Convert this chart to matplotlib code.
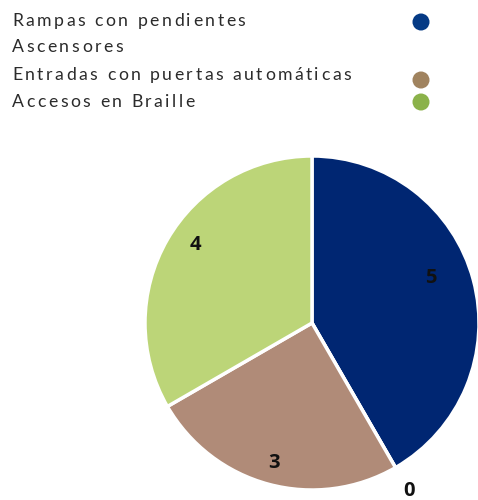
import matplotlib
matplotlib.use('Agg')
import numpy as np
import matplotlib.pyplot as plt

categories = ['Rampas con pendientes', 'Ascensores',
              'Entradas con puertas automáticas', 'Accesos en Braille']
values = [5, 0, 3, 4]
wedge_colors = ['#002672', '#ffffff', '#b08b78', '#bcd578']
dot_colors = ['#053a85', '#ffffff', '#a0835f', '#8bb24a']
# radial position of each value label (fraction of radius)
label_r = [0.76, 1.16, 0.87, 0.84]
label_shift = [6, 0, 0, -4]  # degrees

W, H = 478, 500
R = 167
cx, cy = 312, 323

fig = plt.figure(figsize=(W / 100, H / 100), dpi=100)

# pie axes scaled so radius 1 == R pixels
span = 1.2
ax = fig.add_axes([(cx - span * R) / W, (H - cy - span * R) / H,
                   2 * span * R / W, 2 * span * R / H])
wedges, _ = ax.pie(values, colors=wedge_colors, startangle=90, counterclock=False,
                   radius=1, wedgeprops=dict(edgecolor='white', linewidth=2.5))
ax.set_xlim(-span, span)
ax.set_ylim(-span, span)
ax.set_aspect('equal')
ax.axis('off')

total = sum(values)
start = 90.0
for v, r, sh in zip(values, label_r, label_shift):
    mid = start - 360.0 * v / total / 2 + sh
    start -= 360.0 * v / total
    a = np.deg2rad(mid)
    ax.text(r * np.cos(a), r * np.sin(a), str(v), ha='center', va='center',
            fontsize=14.5, fontweight='bold', color='#111111',
            family='Open Sans', clip_on=False)

# legend drawn in pixel coordinates
lax = fig.add_axes([0, 0, 1, 1])
lax.set_xlim(0, W)
lax.set_ylim(H, 0)
lax.axis('off')

renderer = fig.canvas.get_renderer()
tracking = 2.5  # extra pixels between letters
legend_font = dict(fontsize=12.7, family='Lato', color='#2b2b2b')


def text_width(s):
    t = lax.text(0, 0, s, **legend_font)
    w = t.get_window_extent(renderer).width
    t.remove()
    return w


def spaced_text(x, y, s):
    base = text_width('HH')
    for ch in s:
        lax.text(x, y, ch, ha='left', va='center', **legend_font)
        x += text_width('H' + ch + 'H') - base + tracking


text_y = [21, 47, 75, 102]
dot_y = [22, 47, 80, 102]
for name, ty, dy, c in zip(categories, text_y, dot_y, dot_colors):
    spaced_text(12, ty, name)
    lax.scatter([421], [dy], s=150, color=c, edgecolors='none')

fig.savefig('out.png', dpi=100)
